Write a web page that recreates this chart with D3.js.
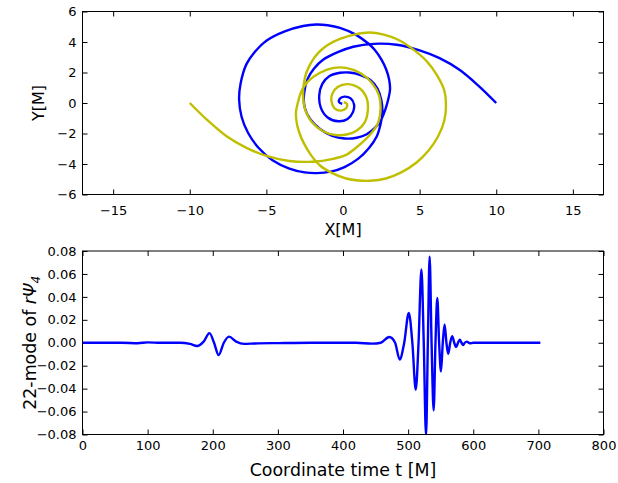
<!DOCTYPE html>
<html>
<head>
<meta charset="utf-8">
<script src="https://cdn.jsdelivr.net/npm/d3@7"></script>
<style>
  html, body { margin: 0; padding: 0; background: #fff; }
  svg { display: block; font-family: "DejaVu Sans", sans-serif; }
  .tick line { stroke: #000; }
  .tick text { font-family: "DejaVu Sans", sans-serif; font-size: 13px; fill: #000; }
  .domain { display: none; }
</style>
</head>
<body>
<svg id="chart" width="618" height="483"></svg>
<script>
// --- trajectories ---
const blueX = [10.0, 8.9, 7.6, 6.3, 5.0, 3.5, 2.0, 0.67, -0.3, -1.28, -1.9, -2.3, -2.54,
  -2.5, -2.15, -1.5, -0.7, 0.1, 0.9, 1.55, 2.1, 2.5, 2.76, 2.95, 3.07, 3.01, 2.82, 2.51,
  2.05, 1.65, 0.8, -0.2, -1.0, -1.75, -2.6, -3.8, -4.98, -5.8, -6.3, -6.68, -6.78, -6.62,
  -6.2, -5.5, -4.6, -3.5, -2.5, -1.7, -0.8, 0.1, 1.0, 1.7, 2.2, 2.45, 2.57, 2.5, 2.25, 1.8,
  1.1, 0.4, -0.2, -0.9, -1.35, -1.55, -1.45, -1.0, -0.3, 0.3, 0.65, 0.72, 0.5, 0.1, -0.2,
  -0.25, -0.05];
const blueY = [0.0, 1.08, 2.18, 2.94, 3.45, 3.82, 3.88, 3.69, 3.35, 2.85, 2.25, 1.6, 0.6,
  -0.3, -1.05, -1.7, -2.15, -2.33, -2.28, -2.05, -1.62, -1.08, -0.43, 0.23, 0.89, 1.54,
  2.2, 2.85, 3.51, 3.9, 4.5, 4.93, 5.1, 5.15, 5.05, 4.7, 4.1, 3.3, 2.55, 1.3, 0.25, -0.9,
  -1.95, -2.95, -3.75, -4.3, -4.55, -4.6, -4.5, -4.2, -3.65, -2.95, -2.2, -1.4, -0.6, 0.2,
  0.95, 1.5, 1.85, 2.0, 1.98, 1.75, 1.25, 0.5, -0.3, -0.95, -1.2, -1.05, -0.6, -0.1, 0.3,
  0.42, 0.3, 0.05, -0.05];

const yellowX = [-10.0, -8.9, -7.6, -6.3, -5.0, -3.5, -2.0, -0.65, 0.2, 0.95, 1.75, 2.25,
  2.45, 2.35, 1.9, 1.15, 0.2, -0.6, -1.5, -2.3, -2.7, -2.95, -3.07, -3.02, -2.85, -2.55,
  -2.1, -1.5, -0.7, 0.2, 1.0, 1.76, 2.8, 3.8, 4.8, 5.6, 6.2, 6.6, 6.72, 6.6, 6.15, 5.5,
  4.6, 3.6, 2.6, 1.76, 0.8, -0.2, -1.0, -1.6, -2.05, -2.37, -2.55, -2.6, -2.45, -2.0,
  -1.3, -0.5, 0.3, 0.9, 1.4, 1.62, 1.55, 1.1, 0.3, -0.35, -0.7, -0.75, -0.55, -0.15, 0.2,
  0.25, 0.05];
const yellowY = [0.0, -1.08, -2.18, -2.94, -3.47, -3.8, -3.85, -3.66, -3.4, -2.85, -2.1,
  -1.4, -0.4, 0.5, 1.3, 1.95, 2.3, 2.3, 1.98, 1.4, 0.8, 0.0, -0.6, -1.3, -1.95, -2.65,
  -3.4, -4.1, -4.6, -4.95, -5.08, -5.1, -4.95, -4.55, -3.9, -3.1, -2.2, -1.2, -0.2, 0.85,
  1.8, 2.7, 3.5, 4.15, 4.5, 4.62, 4.5, 4.2, 3.8, 3.3, 2.7, 2.05, 1.3, 0.35, -0.5, -1.3,
  -1.85, -2.1, -2.05, -1.8, -1.3, -0.5, 0.3, 0.95, 1.24, 1.05, 0.6, 0.1, -0.35, -0.5,
  -0.35, -0.05, 0.05];

// --- waveform (22-mode of r Psi_4) ---
const waveT = [0, 60, 85, 100, 120, 150, 165, 176, 186, 195, 202, 209, 217, 225, 236,
  248, 265, 300, 350, 420, 445, 458, 471, 480, 487, 494, 501, 506.5, 511.7, 516, 520.4,
  524, 527.5, 530.3, 533, 536, 539.2, 542, 544.8, 547.6, 550.4, 553.2, 556, 558.8, 561.6,
  564.6, 567.7, 570.8, 573.8, 576.6, 579.4, 582, 584.5, 587, 590, 595, 600, 703];
const wavePsi = [0, 0, -0.0004, 0.0003, 0, 0, -0.001, -0.0028, 0.001, 0.0084, 0, -0.0108,
  0, 0.0053, 0.001, -0.001, -0.0006, -0.0003, 0, 0, -0.0008, 0, 0.005, 0, -0.0146, 0,
  0.026, 0, -0.041, 0, 0.064, 0, -0.081, 0, 0.075, 0, -0.059, 0, 0.039, 0, -0.025, 0,
  0.016, 0, -0.0096, 0, 0.0058, 0, -0.0038, 0, 0.0026, 0, -0.002, 0, 0.001, -0.0005, 0, 0];

// --- tick labels ---
const topXTicks = [-15, -10, -5, 0, 5, 10, 15];
const topYTicks = [-6, -4, -2, 0, 2, 4, 6];
const botXTicks = [0, 100, 200, 300, 400, 500, 600, 700, 800];
const botYTicks = [-0.08, -0.06, -0.04, -0.02, 0.00, 0.02, 0.04, 0.06, 0.08];

const svg = d3.select("#chart");
const minus = s => s.replace("-", "\u2212");

// 上下のパネル領域
const topBox = { left: 82.5, right: 603.5, top: 11.5, bottom: 194.5 };
const botBox = { left: 82.5, right: 603.5, top: 251, bottom: 434.5 };

const xTop = d3.scaleLinear().domain([-17, 17]).range([topBox.left, topBox.right]);
const yTop = d3.scaleLinear().domain([-6, 6]).range([topBox.bottom, topBox.top]);
const xBot = d3.scaleLinear().domain([0, 800]).range([botBox.left, botBox.right]);
const yBot = d3.scaleLinear().domain([-0.08, 0.08]).range([botBox.bottom, botBox.top]);

function drawPanel(box, x, y, xTicks, yTicks, xFmt, yFmt, xPad, id) {
  const g = svg.append("g");
  const tick = 5;
  // ticks on all four sides, pointing inward
  g.append("g").attr("transform", `translate(0,${box.bottom})`)
    .call(d3.axisBottom(x).tickValues(xTicks).tickFormat(xFmt).tickSizeInner(-tick).tickSizeOuter(0).tickPadding(xPad));
  g.append("g").attr("transform", `translate(0,${box.top})`)
    .call(d3.axisTop(x).tickValues(xTicks).tickFormat("").tickSizeInner(-tick).tickSizeOuter(0));
  g.append("g").attr("transform", `translate(${box.left},0)`)
    .call(d3.axisLeft(y).tickValues(yTicks).tickFormat(yFmt).tickSizeInner(-tick).tickSizeOuter(0).tickPadding(6));
  g.append("g").attr("transform", `translate(${box.right},0)`)
    .call(d3.axisRight(y).tickValues(yTicks).tickFormat("").tickSizeInner(-tick).tickSizeOuter(0));

  svg.append("clipPath").attr("id", id)
    .append("rect")
    .attr("x", box.left).attr("y", box.top)
    .attr("width", box.right - box.left).attr("height", box.bottom - box.top);
  return g;
}

function drawFrame(box) {
  svg.append("rect")
    .attr("x", box.left).attr("y", box.top)
    .attr("width", box.right - box.left).attr("height", box.bottom - box.top)
    .attr("fill", "none").attr("stroke", "#000").attr("stroke-width", 1);
}

// --- 上段: 軌道 ---
drawPanel(topBox, xTop, yTop, topXTicks, topYTicks, d => minus(String(d)), d => minus(String(d)), 11, "clipTop");

const orbitLine = (xs, ys) => d3.line()
  .x(i => xTop(xs[i])).y(i => yTop(ys[i]))
  .curve(d3.curveCatmullRom.alpha(0.5))(d3.range(xs.length));

const orbits = svg.append("g").attr("clip-path", "url(#clipTop)");
orbits.append("path").attr("d", orbitLine(blueX, blueY))
  .attr("fill", "none").attr("stroke", "#0000ff").attr("stroke-width", 2.4)
  .attr("stroke-linejoin", "round");
orbits.append("path").attr("d", orbitLine(yellowX, yellowY))
  .attr("fill", "none").attr("stroke", "#bfbf00").attr("stroke-width", 2.4)
  .attr("stroke-linejoin", "round");
drawFrame(topBox);

svg.append("text").attr("x", xTop(0)).attr("y", 235)
  .attr("text-anchor", "middle").style("font-size", "16px").text("X[M]");
svg.append("text").attr("transform", `translate(44,${yTop(0)}) rotate(-90)`)
  .attr("text-anchor", "middle").style("font-size", "16px").text("Y[M]");

// --- 下段: 波形 ---
drawPanel(botBox, xBot, yBot, botXTicks, botYTicks, d => String(d), d => minus(d3.format(".2f")(d)), 6, "clipBot");

const waveLine = d3.line()
  .x(i => xBot(waveT[i])).y(i => yBot(wavePsi[i]))
  .curve(d3.curveMonotoneX);

svg.append("g").attr("clip-path", "url(#clipBot)")
  .append("path").attr("d", waveLine(d3.range(waveT.length)))
  .attr("fill", "none").attr("stroke", "#0000ff").attr("stroke-width", 2.4);
drawFrame(botBox);

svg.append("text").attr("x", xBot(400)).attr("y", 476)
  .attr("text-anchor", "middle").style("font-size", "17.4px").text("Coordinate time t [M]");

const yl = svg.append("text").attr("transform", `translate(36,${yBot(0)}) rotate(-90)`)
  .attr("text-anchor", "middle").style("font-size", "17.4px");
yl.append("tspan").text("22-mode of ");
yl.append("tspan").style("font-style", "italic").text("r\u03A8");
yl.append("tspan").style("font-style", "italic").style("font-size", "12px").attr("dy", 4).text("4");
</script>
</body>
</html>
